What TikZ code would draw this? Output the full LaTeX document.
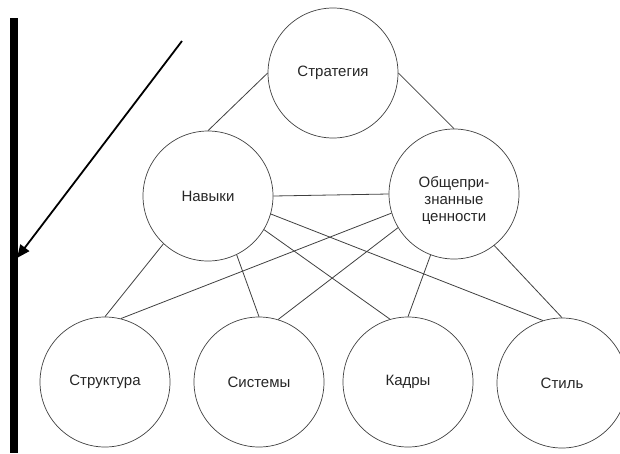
\documentclass[tikz,border=0pt]{standalone}
\usepackage{fontspec}
\setmainfont{Liberation Sans}
\usetikzlibrary{arrows.meta}

\begin{document}
\begin{tikzpicture}[x=1pt,y=-1pt]
				\tikzstyle{every node}=[draw=black!75,circle,line width=0.7pt,minimum size=130pt,inner sep=0pt,font=\fontsize{15}{17}\selectfont,text=black!85]
				\tikzstyle{link}=[draw=black!75,line width=0.8pt]
				\useasboundingbox (0,0) rectangle (620,453);
				\node (strat) at (333,73) {Стратегия};
				\node (navyki) at (208,196) {Навыки};
				\node (obsh) at (454,194) {\raisebox{-7pt}[\height][\depth]{\begin{tabular}{@{}c@{}}Общепри-\\знанные\\ценности\end{tabular}}};
				\node (strukt) at (105,382) {Структура};
				\node (sist) at (259,382) {Системы};
				\node (kadry) at (408,382) {Кадры};
				\node (stil) at (562,383) {Стиль};
				\draw[link] (strat.west) -- (navyki.north);
				\draw[link] (strat.east) -- (obsh.north);
				\draw[link] (navyki.east) -- (obsh.west);
				\draw[link] (navyki.-133) -- (strukt.north);
				\draw[link] (navyki.-64) -- (sist.north);
				\draw[link] (navyki.-31) -- (kadry.106);
				\draw[link] (navyki.-16) -- (stil.107);
				\draw[link] (obsh.197) -- (strukt.76);
				\draw[link] (obsh.211) -- (sist.73);
				\draw[link] (obsh.249) -- (kadry.north);
				\draw[link] (obsh.308) -- (stil.north);
				\coordinate (balkenoben) at (13.5,18);
				\coordinate (balkenunten) at (13.5,453);
				\coordinate (pfeilstart) at (182,41);
				\coordinate (pfeilspitze) at (17,258);
				\draw[line width=8pt] (balkenoben) -- (balkenunten);
				\draw[line width=1.8pt,-{Triangle[length=13pt,width=11pt]}] (pfeilstart) -- (pfeilspitze);
				\end{tikzpicture}
\end{document}
